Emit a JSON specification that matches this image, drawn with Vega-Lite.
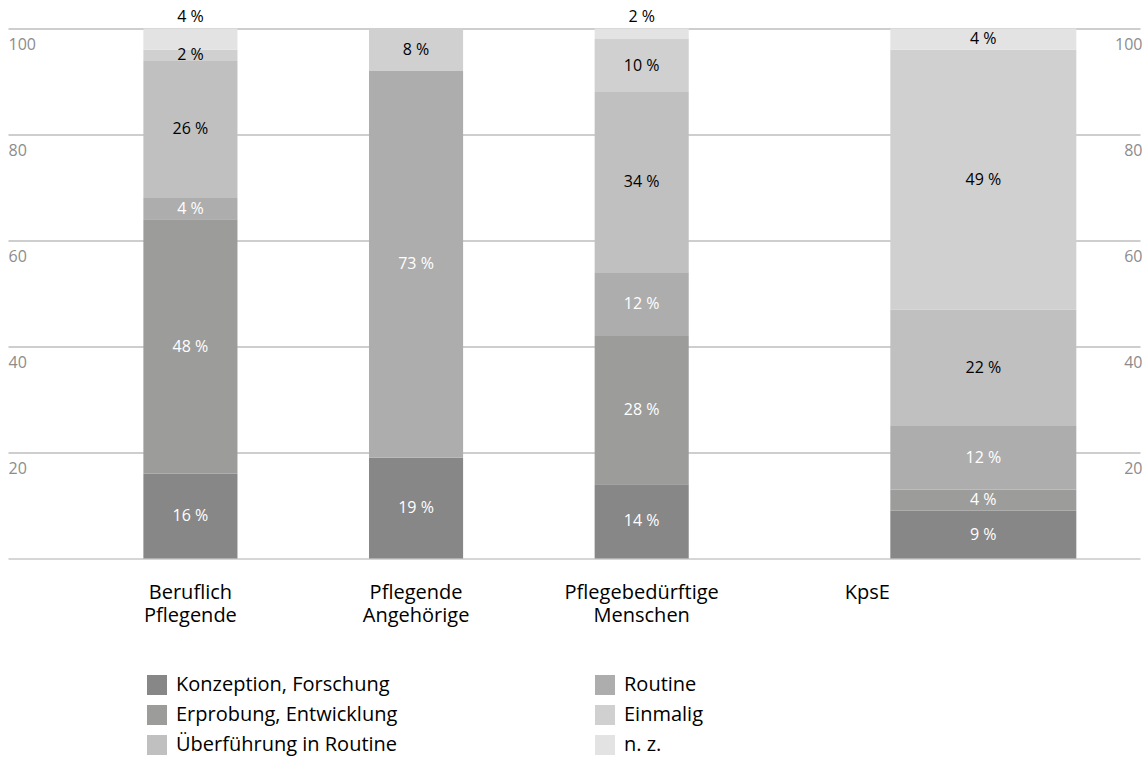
{
  "$schema": "https://vega.github.io/schema/vega-lite/v6.json",
  "width": 1132,
  "height": 530,
  "autosize": {"type": "none"},
  "padding": {"left": 8, "top": 28.5, "right": 8, "bottom": 202.5},
  "background": "white",
  "config": {"font": "Open Sans", "view": {"stroke": null}},
  "data": {
    "values": [
      {"group": "Beruflich Pflegende", "cat": "Konzeption, Forschung", "value": 16},
      {"group": "Beruflich Pflegende", "cat": "Erprobung, Entwicklung", "value": 48},
      {"group": "Beruflich Pflegende", "cat": "Routine", "value": 4},
      {"group": "Beruflich Pflegende", "cat": "Überführung in Routine", "value": 26},
      {"group": "Beruflich Pflegende", "cat": "Einmalig", "value": 2},
      {"group": "Beruflich Pflegende", "cat": "n. z.", "value": 4},
      {"group": "Pflegende Angehörige", "cat": "Konzeption, Forschung", "value": 19},
      {"group": "Pflegende Angehörige", "cat": "Routine", "value": 73},
      {"group": "Pflegende Angehörige", "cat": "Einmalig", "value": 8},
      {"group": "Pflegebedürftige Menschen", "cat": "Konzeption, Forschung", "value": 14},
      {"group": "Pflegebedürftige Menschen", "cat": "Erprobung, Entwicklung", "value": 28},
      {"group": "Pflegebedürftige Menschen", "cat": "Routine", "value": 12},
      {"group": "Pflegebedürftige Menschen", "cat": "Überführung in Routine", "value": 34},
      {"group": "Pflegebedürftige Menschen", "cat": "Einmalig", "value": 10},
      {"group": "Pflegebedürftige Menschen", "cat": "n. z.", "value": 2},
      {"group": "KpsE", "cat": "Konzeption, Forschung", "value": 9},
      {"group": "KpsE", "cat": "Erprobung, Entwicklung", "value": 4},
      {"group": "KpsE", "cat": "Routine", "value": 12},
      {"group": "KpsE", "cat": "Überführung in Routine", "value": 22},
      {"group": "KpsE", "cat": "Einmalig", "value": 49},
      {"group": "KpsE", "cat": "n. z.", "value": 4}
    ]
  },
  "transform": [
    {"calculate": "indexof(['Konzeption, Forschung','Erprobung, Entwicklung','Routine','Überführung in Routine','Einmalig','n. z.'], datum.cat)", "as": "rank"},
    {"stack": "value", "groupby": ["group"], "sort": [{"field": "rank", "order": "ascending"}], "as": ["y0", "y1"]},
    {"calculate": "(datum.y0 + datum.y1) / 2", "as": "mid"},
    {"calculate": "datum.value + ' %'", "as": "label"}
  ],
  "encoding": {
    "x": {
      "field": "group",
      "type": "nominal",
      "scale": {
        "domain": ["Beruflich Pflegende", "Pflegende Angehörige", "Pflegebedürftige Menschen", "KpsE"],
        "paddingInner": 0.583,
        "paddingOuter": 0.8,
        "align": 0.375
      },
      "axis": {
        "title": null,
        "ticks": false,
        "domain": true,
        "domainColor": "#c8c8c8",
        "domainWidth": 1.5,
        "labelAngle": 0,
        "labelExpr": "split(datum.label, ' ')",
        "labelFontSize": 20,
        "labelColor": "#000000",
        "labelLineHeight": 23,
        "labelPadding": 34,
        "labelBaseline": "middle",
        "labelLimit": 400,
        "labelOverlap": false,
        "encode": {"labels": {"update": {"dx": {"signal": "datum.value === 'KpsE' ? 116 : 0"}}}}
      }
    },
    "color": {
      "field": "cat",
      "type": "nominal",
      "scale": {
        "domain": ["Konzeption, Forschung", "Erprobung, Entwicklung", "Überführung in Routine", "Routine", "Einmalig", "n. z."],
        "range": ["#878787", "#9c9c9b", "#c0c0c0", "#adadad", "#d0d0d0", "#e3e3e3"]
      },
      "legend": {
        "orient": "none",
        "legendX": 139,
        "legendY": 646.5,
        "columns": 2,
        "title": null,
        "padding": 0,
        "symbolType": "square",
        "symbolSize": 400,
        "symbolStrokeWidth": 0,
        "symbolOpacity": 1,
        "labelFontSize": 20,
        "labelColor": "#000000",
        "labelOffset": 9,
        "labelLimit": 400,
        "rowPadding": 10,
        "columnPadding": 197
      }
    }
  },
  "resolve": {"axis": {"y": "independent"}},
  "layer": [
    {
      "transform": [{"filter": "datum.group !== 'KpsE'"}],
      "mark": {"type": "bar"},
      "encoding": {
        "y": {
          "field": "y0",
          "type": "quantitative",
          "scale": {"domain": [0, 100], "nice": false},
          "axis": {
            "orient": "left",
            "title": null,
            "values": [20, 40, 60, 80, 100],
            "domain": false,
            "ticks": false,
            "tickSize": 0,
            "labelAlign": "left",
            "labelPadding": 0,
            "labelBaseline": "middle",
            "labelOffset": 16,
            "labelFontSize": 16,
            "labelColor": "#8c8c8c",
            "grid": true,
            "gridColor": "#9d9d9d",
            "gridWidth": 1.2
          }
        },
        "y2": {"field": "y1"}
      }
    },
    {
      "transform": [{"filter": "datum.group === 'KpsE'"}],
      "mark": {"type": "bar", "width": 186, "xOffset": 116},
      "encoding": {
        "y": {
          "field": "y0",
          "type": "quantitative",
          "scale": {"domain": [0, 100], "nice": false},
          "axis": {
            "orient": "right",
            "title": null,
            "values": [20, 40, 60, 80, 100],
            "domain": false,
            "ticks": false,
            "tickSize": 0,
            "labelAlign": "right",
            "labelPadding": 2,
            "labelBaseline": "middle",
            "labelOffset": 16,
            "labelFontSize": 16,
            "labelColor": "#8c8c8c",
            "grid": false
          }
        },
        "y2": {"field": "y1"}
      }
    },
    {
      "transform": [{"filter": "datum.group !== 'KpsE' && datum.cat !== 'n. z.'"}],
      "mark": {"type": "text", "fontSize": 16, "baseline": "middle", "align": "center"},
      "encoding": {
        "y": {"field": "mid", "type": "quantitative", "axis": null},
        "text": {"field": "label"},
        "color": {"condition": {"test": "datum.rank <= 2", "value": "#ffffff"}, "value": "#000000"}
      }
    },
    {
      "transform": [{"filter": "datum.group === 'KpsE'"}],
      "mark": {"type": "text", "fontSize": 16, "baseline": "middle", "align": "center", "xOffset": 116},
      "encoding": {
        "y": {"field": "mid", "type": "quantitative", "axis": null},
        "text": {"field": "label"},
        "color": {"condition": {"test": "datum.rank <= 2", "value": "#ffffff"}, "value": "#000000"}
      }
    },
    {
      "transform": [{"filter": "datum.group !== 'KpsE' && datum.cat === 'n. z.'"}],
      "mark": {"type": "text", "fontSize": 16, "baseline": "middle", "align": "center", "dy": -12},
      "encoding": {
        "y": {"datum": 100, "type": "quantitative", "axis": null},
        "text": {"field": "label"},
        "color": {"value": "#000000"}
      }
    }
  ]
}
